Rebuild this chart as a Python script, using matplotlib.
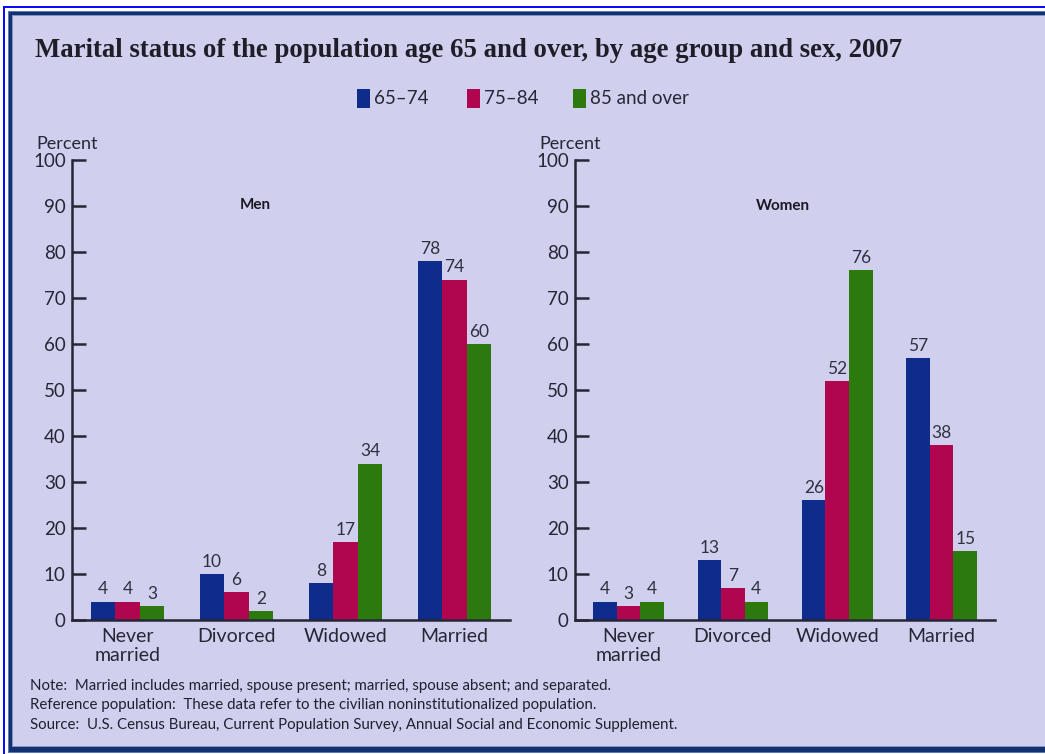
import matplotlib
matplotlib.use("Agg")
import matplotlib.pyplot as plt
from matplotlib.patches import Rectangle
import numpy as np

# ---- data -------------------------------------------------------------
categories = ["Never\nmarried", "Divorced", "Widowed", "Married"]
age_groups = ["65\u201374", "75\u201384", "85 and over"]

men_65_74 = [4, 10, 8, 78]
men_75_84 = [4, 6, 17, 74]
men_85_over = [3, 2, 34, 60]

women_65_74 = [4, 13, 26, 57]
women_75_84 = [3, 7, 52, 38]
women_85_over = [4, 4, 76, 15]

y_ticks = [0, 10, 20, 30, 40, 50, 60, 70, 80, 90, 100]

title = "Marital status of the population age 65 and over, by age group and sex, 2007"
notes = [
    "Note:  Married includes married, spouse present; married, spouse absent; and separated.",
    "Reference population:  These data refer to the civilian noninstitutionalized population.",
    "Source:  U.S. Census Bureau, Current Population Survey, Annual Social and Economic Supplement.",
]

# ---- style ------------------------------------------------------------
colors = ["#0d2c8c", "#b0064f", "#2c7a0e"]
panel_bg = "#d0d0ee"
ink = "#262636"
sans = ["Lato", "DejaVu Sans"]
serif = ["Liberation Serif", "DejaVu Serif"]

W, H = 1045, 754
fig = plt.figure(figsize=(W / 100, H / 100), dpi=100, facecolor="white")


def fig_rect(x0, y0, x1, y1, color, z=-10):
    """Rectangle given in pixel coordinates measured from the top-left."""
    r = Rectangle((x0 / W, 1 - y1 / H), (x1 - x0) / W, (y1 - y0) / H,
                  transform=fig.transFigure, facecolor=color,
                  edgecolor="none", zorder=z)
    fig.add_artist(r)


def fx(x):
    return x / W


def fy(y):
    return 1 - y / H


# page frame: thin bright outline, heavy navy border, lavender panel
fig_rect(3, 6, W + 5, H + 5, "#0a0aff", -12)
fig_rect(5, 8, W + 5, H + 5, "white", -11.5)
fig_rect(8, 11, W + 5, 753, "#5a78b4", -11)
fig_rect(9, 12, W + 5, 752, "#13306f", -10.8)
fig_rect(12, 15, W + 5, 747, "#7f95c8", -10.6)
fig_rect(13, 16, W + 5, 746, panel_bg, -10.4)

# title
fig.text(fx(35), fy(57), title, family=serif, fontsize=19.3, weight="bold",
         color="#1e1e28", va="baseline", ha="left")

# legend
legend_boxes = [(357, 374), (467, 484), (573, 590)]
for (bx, tx), label, c in zip(legend_boxes, age_groups, colors):
    fig_rect(bx, 89, bx + 13, 108, c, 5)
    fig.text(fx(tx), fy(99), label, family=sans, fontsize=13.5,
             color=ink, va="center", ha="left")


def draw_panel(rect_px, series, panel_label, label_xy, percent_x):
    x0, y0, x1, y1 = rect_px
    ax = fig.add_axes([x0 / W, 1 - y1 / H, (x1 - x0) / W, (y1 - y0) / H])
    ax.set_facecolor("none")
    x = np.arange(len(categories))
    width = 0.225
    for i, (vals, c) in enumerate(zip(series, colors)):
        pos = x + (i - 1) * width
        bars = ax.bar(pos, vals, width=width, color=c, edgecolor="none",
                      zorder=2)
        for b, v in zip(bars, vals):
            ax.annotate(f"{v}", (b.get_x() + b.get_width() / 2, v),
                        xytext=(0, 3), textcoords="offset points",
                        ha="center", va="bottom", family=sans,
                        fontsize=12.5, color="#303040")
    ax.set_xlim(-0.51, 3.51)
    ax.set_ylim(0, 100)
    ax.set_yticks(y_ticks)
    ax.set_xticks(x)
    ax.set_xticklabels(categories, family=sans, fontsize=14, color=ink,
                       linespacing=1.12)
    for lab in ax.get_yticklabels():
        lab.set_family(sans)
        lab.set_fontsize(13.5)
        lab.set_color(ink)
    ax.tick_params(axis="y", direction="in", length=10, width=1.8,
                   color=ink, pad=4.5)
    ax.tick_params(axis="x", length=0, pad=6)
    for side in ("top", "right"):
        ax.spines[side].set_visible(False)
    for side in ("left", "bottom"):
        ax.spines[side].set_color(ink)
        ax.spines[side].set_linewidth(1.8)
    ax.text(label_xy[0], label_xy[1], panel_label, family=sans,
            fontsize=11, weight="bold", color="#1a1a24",
            ha="center", va="center")
    fig.text(fx(percent_x), fy(144), "Percent", family=sans, fontsize=13,
             color=ink, ha="left", va="center")
    return ax


draw_panel((72, 160, 510, 620), [men_65_74, men_75_84, men_85_over],
           "Men", (1.17, 90.2), 36)
draw_panel((575, 160, 995, 620), [women_65_74, women_75_84, women_85_over],
           "Women", (1.48, 90.0), 539)

# notes
for text, y in zip(notes, [686, 705, 725]):
    fig.text(fx(30), fy(y), text, family=sans, fontsize=10.8,
             color="#202030", ha="left", va="center")

fig.savefig("out.png", dpi=100, facecolor="white")
